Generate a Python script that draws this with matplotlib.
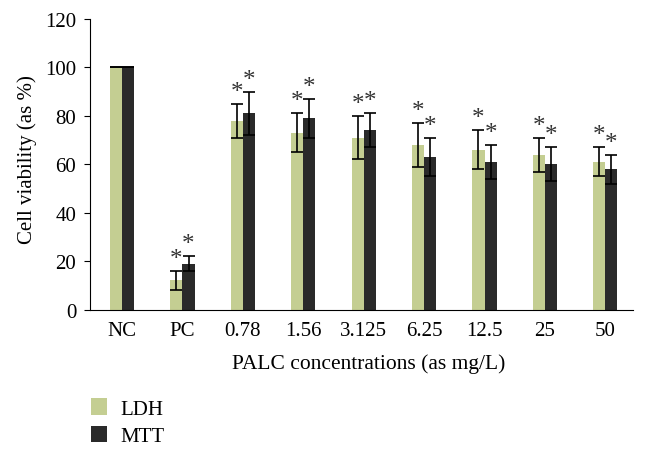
import matplotlib
matplotlib.use('Agg')
import matplotlib.pyplot as plt
import numpy as np

categories = ['NC', 'PC', '0.78', '1.56', '3.125', '6.25', '12.5', '25', '50']
ldh = [100, 12, 78, 73, 71, 68, 66, 64, 61]
ldh_err = [0, 4, 7, 8, 9, 9, 8, 7, 6]
mtt = [100, 19, 81, 79, 74, 63, 61, 60, 58]
mtt_err = [0, 3, 9, 8, 7, 8, 7, 7, 6]
ldh_star = [False, True, True, True, True, True, True, True, True]
mtt_star = [False, True, True, True, True, True, True, True, True]

plt.rcParams['font.family'] = ['Liberation Serif', 'DejaVu Serif']

fig = plt.figure(figsize=(6.48, 4.56), dpi=100)
ax = fig.add_axes([0.139, 0.319, 0.838, 0.637])

x = np.arange(len(categories))
w = 0.2
green = '#c4ce92'
dark = '#2a2a2a'

ax.bar(x - w/2, ldh, w, color=green)
ax.bar(x + w/2, mtt, w, color=dark)
ax.errorbar(x - w/2, ldh, yerr=ldh_err, fmt='none', ecolor='black',
            elinewidth=1.2, capsize=4, capthick=1.2)
ax.errorbar(x + w/2, mtt, yerr=mtt_err, fmt='none', ecolor='black',
            elinewidth=1.2, capsize=4, capthick=1.2)

# significance stars above the error bars
for i in range(len(categories)):
    if ldh_star[i]:
        ax.text(x[i] - w/2, ldh[i] + ldh_err[i] + 5, '*', ha='center',
                va='center', fontsize=18, color='#333333')
    if mtt_star[i]:
        ax.text(x[i] + w/2, mtt[i] + mtt_err[i] + 5, '*', ha='center',
                va='center', fontsize=18, color='#333333')

ax.set_xlim(-0.53, len(categories) - 1 + 0.46)
ax.set_ylim(0, 120)
ax.set_yticks(np.arange(0, 121, 20))
ax.set_xticks(x)
ax.set_xticklabels(categories)
ax.tick_params(axis='x', length=0, labelsize=15, pad=8)
ax.tick_params(axis='y', length=4, labelsize=15, direction='out', pad=6)
ax.spines['top'].set_visible(False)
ax.spines['right'].set_visible(False)
ax.set_ylabel('Cell viability (as %)', fontsize=15)
ax.yaxis.set_label_coords(-0.098, 0.52)
ax.set_xlabel('PALC concentrations (as mg/L)', fontsize=15.5)
ax.xaxis.set_label_coords(0.513, -0.152)

fig.legend(['LDH', 'MTT'], loc='upper left', bbox_to_anchor=(0.14, 0.125),
           frameon=False, fontsize=15, handlelength=0.8, handleheight=0.85,
           handletextpad=0.6, labelspacing=0.35, borderpad=0, borderaxespad=0)

fig.savefig('out.png', dpi=100)
